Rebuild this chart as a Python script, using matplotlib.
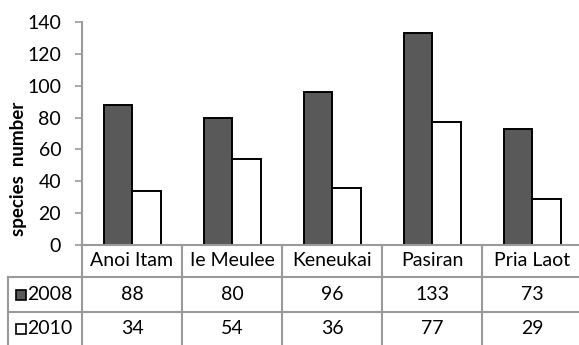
import matplotlib
matplotlib.use("Agg")
import matplotlib.pyplot as plt
from matplotlib.lines import Line2D
from matplotlib.patches import Rectangle
import numpy as np

sites = ["Anoi Itam", "Ie Meulee", "Keneukai", "Pasiran", "Pria Laot"]
series_names = ["2008", "2010"]
values_2008 = [88, 80, 96, 133, 73]
values_2010 = [34, 54, 36, 77, 29]
y_ticks = [0, 20, 40, 60, 80, 100, 120, 140]

plt.rcParams["font.family"] = ["Lato", "DejaVu Sans"]
FS = 14
GRID = "#9a9a9a"
DARK = "#595959"

W, H = 579, 345
fig = plt.figure(figsize=(W / 100, H / 100), dpi=100)

# axes spans pixel x 82..582, y 22..245
x0, x1, ytop, ybot = 82, 582, 22, 245
ax = fig.add_axes([x0 / W, 1 - ybot / H, (x1 - x0) / W, (ybot - ytop) / H])

n = len(sites)
centers = np.arange(n) + 0.5
bw = 0.285
ax.bar(centers - bw / 2, values_2008, bw, color=DARK, edgecolor="black", linewidth=1.4, zorder=3)
ax.bar(centers + bw / 2, values_2010, bw, color="white", edgecolor="black", linewidth=1.4, zorder=3)

ax.set_xlim(0, n)
ax.set_ylim(0, 140)
ax.set_yticks(y_ticks)
ax.set_yticklabels([str(t) for t in y_ticks], fontsize=FS)
ax.tick_params(axis="y", length=5, width=1.2, color=GRID, pad=10)
ax.set_xticks([])
for s in ["top", "right"]:
    ax.spines[s].set_visible(False)
for s in ["left", "bottom"]:
    ax.spines[s].set_color(GRID)
    ax.spines[s].set_linewidth(1.5)
ax.spines["bottom"].set_zorder(4)

fig.text(18.5 / W, 1 - 169 / H, "species  number", rotation=90, ha="center", va="center",
         fontsize=13.5, fontweight="bold")

# data table below the plot, in pixel rows
def yfrac(py):
    return (ybot - py) / (ybot - ytop)

rows_px = [245, 277, 312, 345]
tr = ax.get_xaxis_transform()
left_x = -0.74  # left edge of the legend column (data units)

line_kw = dict(color=GRID, linewidth=1.5, transform=tr, clip_on=False, zorder=2)
for py in rows_px[1:3]:
    ax.add_line(Line2D([left_x, n], [yfrac(py), yfrac(py)], **line_kw))
ax.add_line(Line2D([left_x, left_x], [yfrac(rows_px[1]), yfrac(rows_px[3])], **line_kw))
for b in range(0, n + 1):
    ax.add_line(Line2D([b, b], [yfrac(rows_px[0]), yfrac(rows_px[3])], **line_kw))

def mid(i):
    return yfrac((rows_px[i] + rows_px[i + 1]) / 2)

for c, name in zip(centers, sites):
    ax.text(c, mid(0), name, transform=tr, ha="center", va="center", fontsize=FS, clip_on=False)
for r, (vals, sname, fc) in enumerate(zip([values_2008, values_2010], series_names, [DARK, "white"]), start=1):
    for c, v in zip(centers, vals):
        ax.text(c, mid(r), str(v), transform=tr, ha="center", va="center", fontsize=FS, clip_on=False)
    # legend key + series name
    ky = mid(r)
    ax.add_patch(Rectangle((-0.66, ky - 5 / 223), 0.10, 10 / 223, transform=tr, facecolor=fc,
                           edgecolor="black", linewidth=1.2, clip_on=False))
    ax.text(-0.545, ky, sname, transform=tr, ha="left", va="center", fontsize=FS, clip_on=False)

fig.savefig("out.png", dpi=100)
